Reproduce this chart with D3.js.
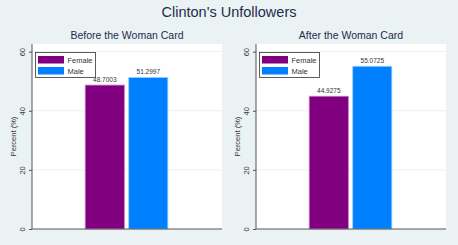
<!DOCTYPE html>
<html>
<head>
<meta charset="utf-8">
<script src="https://cdn.jsdelivr.net/npm/d3@7"></script>
<style>
  body { margin: 0; background: #eaf2f3; }
  text { font-family: "Liberation Sans", Arial, sans-serif; }
</style>
</head>
<body>
<div id="chart"></div>
<script>
// Data
var panelTitles = ["Before the Woman Card", "After the Woman Card"];
var categories = ["Female", "Male"];
var beforeValues = [48.7003, 51.2997];
var afterValues = [44.9275, 55.0725];
var yTicks = [0, 20, 40, 60];
var colors = ["#800080", "#0080ff"];

var svgWidth = 458;
var svgHeight = 245;

var svg = d3.select("#chart")
  .append("svg")
  .attr("width", svgWidth)
  .attr("height", svgHeight);

svg.append("rect")
  .attr("width", svgWidth)
  .attr("height", svgHeight)
  .attr("fill", "#eaf2f3");

// Main title
svg.append("text")
  .attr("x", 229)
  .attr("y", 17)
  .attr("text-anchor", "middle")
  .attr("font-size", "14.5px")
  .attr("fill", "#1e2c4e")
  .text("Clinton's Unfollowers");

var panels = [
  { title: panelTitles[0], values: beforeValues, left: 32 },
  { title: panelTitles[1], values: afterValues, left: 256 }
];

var plotWidth = 190;
var plotTop = 44;
var plotBottom = 229;

var y = d3.scaleLinear()
  .domain([0, 62.6])
  .range([plotBottom, plotTop]);

panels.forEach(function(p) {
  var g = svg.append("g")
    .attr("transform", `translate(${p.left}, 0)`);

  // plot region
  g.append("rect")
    .attr("x", 0)
    .attr("y", plotTop)
    .attr("width", plotWidth)
    .attr("height", plotBottom - plotTop)
    .attr("fill", "white");

  // gridlines
  g.selectAll(".grid")
    .data(yTicks.slice(1))
    .enter()
    .append("line")
    .attr("x1", 0)
    .attr("x2", plotWidth)
    .attr("y1", d => y(d))
    .attr("y2", d => y(d))
    .attr("stroke", "#eaf2f3")
    .attr("stroke-width", 1);

  // panel title
  g.append("text")
    .attr("x", plotWidth / 2)
    .attr("y", 39)
    .attr("text-anchor", "middle")
    .attr("font-size", "10.5px")
    .attr("fill", "#1e2c4e")
    .text(p.title);

  var x = d3.scaleBand()
    .domain(categories)
    .range([plotWidth * 0.28, plotWidth * 0.715])
    .paddingInner(0.1);

  // bars
  g.selectAll(".bar")
    .data(p.values)
    .enter()
    .append("rect")
    .attr("x", (d, i) => x(categories[i]))
    .attr("y", d => y(d))
    .attr("width", x.bandwidth())
    .attr("height", d => plotBottom - y(d))
    .attr("fill", (d, i) => colors[i])
    .attr("stroke", (d, i) => i == 0 ? "#c77fc7" : "#9fd0ff")
    .attr("stroke-width", 0.8);

  // value labels
  g.selectAll(".lbl")
    .data(p.values)
    .enter()
    .append("text")
    .attr("x", (d, i) => x(categories[i]) + x.bandwidth() / 2)
    .attr("y", d => y(d) - 3.5)
    .attr("text-anchor", "middle")
    .attr("font-size", "6.5px")
    .attr("fill", "#333")
    .text(d => d.toFixed(4));

  // y axis
  var leftAxis = d3.axisLeft(y)
    .tickValues(yTicks)
    .tickSize(3)
    .tickPadding(2)
    .tickFormat(d3.format("d"));

  var ax = g.append("g").call(leftAxis);
  ax.select(".domain").attr("d", `M0,${plotTop}V${plotBottom}`).attr("stroke", "#555");
  ax.selectAll(".tick line").attr("stroke", "#555");
  ax.selectAll(".tick text")
    .attr("transform", "rotate(-90)")
    .attr("x", 0)
    .attr("y", -7)
    .attr("dy", 0)
    .attr("text-anchor", "middle")
    .attr("font-size", "7.5px")
    .attr("fill", "#333");

  // x axis line
  g.append("line")
    .attr("x1", 0)
    .attr("x2", plotWidth)
    .attr("y1", plotBottom)
    .attr("y2", plotBottom)
    .attr("stroke", "#555");

  // y axis title
  g.append("text")
    .attr("transform", `translate(-16, ${(plotTop + plotBottom) / 2}) rotate(-90)`)
    .attr("text-anchor", "middle")
    .attr("font-size", "7.5px")
    .attr("fill", "#333")
    .text("Percent (%)");

  // legend
  var leg = g.append("g").attr("transform", `translate(3.5, ${plotTop + 8.5})`);
  leg.append("rect")
    .attr("width", 60)
    .attr("height", 25)
    .attr("fill", "white")
    .attr("stroke", "#333")
    .attr("stroke-width", 0.8);

  leg.selectAll(".sw")
    .data(categories)
    .enter()
    .append("rect")
    .attr("x", 2.5)
    .attr("y", (d, i) => 3.5 + i * 11)
    .attr("width", 26)
    .attr("height", 7.5)
    .attr("fill", (d, i) => colors[i]);

  leg.selectAll(".lt")
    .data(categories)
    .enter()
    .append("text")
    .attr("x", 32)
    .attr("y", (d, i) => 10 + i * 11)
    .attr("font-size", "7.5px")
    .attr("fill", "#333")
    .text(d => d);
});
</script>
</body>
</html>
